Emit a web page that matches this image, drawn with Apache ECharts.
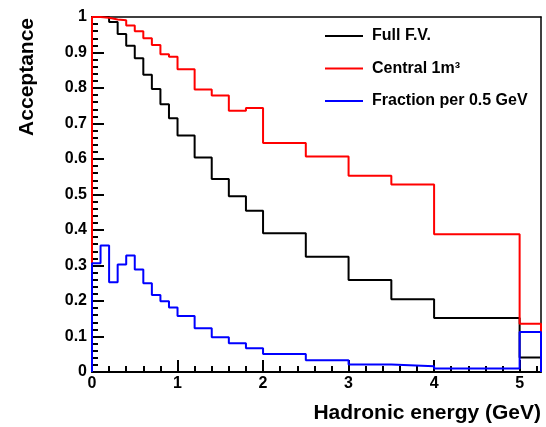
<!DOCTYPE html>
<html>
<head>
<meta charset="utf-8">
<script src="https://cdn.jsdelivr.net/npm/echarts@6/dist/echarts.min.js"></script>
<style>
  html, body { margin: 0; padding: 0; background: #fff; }
  #chart { width: 546px; height: 427px; }
</style>
</head>
<body>
<div id="chart"></div>
<script>
// Bin edges of the hadronic-energy histograms (GeV)
const binEdges = [0, 0.1, 0.2, 0.3, 0.4, 0.5, 0.6, 0.7, 0.8, 0.9, 1.0,
                  1.2, 1.4, 1.6, 1.8, 2.0, 2.5, 3.0, 3.5, 4.0, 5.0, 5.25];

// Acceptance per bin, full fiducial volume
const fullFV = [1.0, 1.0, 0.986, 0.952, 0.919, 0.884, 0.837, 0.797, 0.754, 0.715,
                0.666, 0.604, 0.544, 0.495, 0.454, 0.391, 0.325, 0.259, 0.205, 0.152, 0.041];

// Acceptance per bin, central 1 m^3
const central1m3 = [1.0, 0.998, 0.993, 0.991, 0.976, 0.960, 0.940, 0.921, 0.895, 0.888,
                    0.853, 0.796, 0.779, 0.736, 0.744, 0.645, 0.607, 0.553, 0.528, 0.388, 0.136];

// Fraction of events per 0.5 GeV
const fraction = [0.306, 0.356, 0.253, 0.303, 0.328, 0.289, 0.250, 0.217, 0.199, 0.182,
                  0.158, 0.123, 0.098, 0.081, 0.067, 0.051, 0.033, 0.021, 0.016, 0.010, 0.113];

const seriesNames = ['Full F.V.', 'Central 1m\u00B3', 'Fraction per 0.5 GeV'];
const seriesColors = ['#000000', '#ff0000', '#0000ff'];
const xTickValues = [0, 1, 2, 3, 4, 5];

const FONT = '"Liberation Sans", Arial, Helvetica, sans-serif';
const xMax = binEdges[binEdges.length - 1];

// Turn per-bin contents into an outline that starts and ends on the baseline
function histogramOutline(values) {
  const pts = [[binEdges[0], 0]];
  values.forEach((v, i) => pts.push([binEdges[i], v]));
  pts.push([xMax, values[values.length - 1]]);
  pts.push([xMax, 0]);
  return pts;
}

const chart = echarts.init(document.getElementById('chart'), null, { renderer: 'canvas' });

const legendCenters = [36, 68.5, 101];
const tickLine = { color: '#000', width: 2 };
const frameLine = { show: true, onZero: false, lineStyle: { color: '#000', width: 1.5 } };

chart.setOption({
  animation: false,
  backgroundColor: '#ffffff',
  grid: { left: 92, right: 5, top: 17, bottom: 55, show: false },
  xAxis: [
    {
      // main energy axis: labelled ticks every 1 GeV
      type: 'value', min: 0, max: xMax, interval: 1, position: 'bottom',
      axisLine: { show: true, onZero: false, lineStyle: { color: '#000', width: 2 } },
      axisTick: { show: true, inside: true, length: 12, lineStyle: tickLine },
      splitLine: { show: false },
      axisLabel: {
        show: true,
        color: '#000', fontSize: 16, fontWeight: 'bold', fontFamily: FONT, margin: 4,
        formatter: v => (xTickValues.includes(v) ? String(v) : '')
      }
    },
    {
      // short ticks every 0.2 GeV along the same edge
      type: 'value', min: 0, max: xMax, interval: 0.2, position: 'bottom',
      axisLine: { show: false, onZero: false },
      axisTick: { show: true, inside: true, length: 6, lineStyle: tickLine },
      axisLabel: { show: false },
      splitLine: { show: false }
    },
    {
      // top edge of the frame
      type: 'value', min: 0, max: xMax, position: 'top',
      axisLine: frameLine, axisTick: { show: false }, axisLabel: { show: false },
      splitLine: { show: false }
    }
  ],
  yAxis: [
    {
      type: 'value', min: 0, max: 1, interval: 0.1, position: 'left',
      axisLine: { show: true, onZero: false, lineStyle: { color: '#000', width: 2 } },
      axisTick: { show: true, inside: true, length: 12, lineStyle: tickLine },
      minorTick: { show: true, splitNumber: 5, length: 6, lineStyle: tickLine },
      splitLine: { show: false },
      minorSplitLine: { show: false },
      axisLabel: { show: true, color: '#000', fontSize: 16, fontWeight: 'bold', fontFamily: FONT, margin: 5 }
    },
    {
      // right edge of the frame
      type: 'value', min: 0, max: 1, position: 'right',
      axisLine: frameLine, axisTick: { show: false }, axisLabel: { show: false },
      splitLine: { show: false }
    }
  ],
  legend: seriesNames.map((name, i) => ({
    data: [name],
    left: 325,
    top: legendCenters[i] - 8,
    padding: 0,
    icon: 'rect',
    itemWidth: 38,
    itemHeight: 2,
    selectedMode: false,
    textStyle: {
      color: '#000', fontSize: 16, fontWeight: 'bold', fontFamily: FONT,
      padding: [0, 0, 0, 4]
    }
  })),
  series: [fullFV, central1m3, fraction].map((vals, i) => ({
    name: seriesNames[i],
    type: 'line',
    step: 'end',
    xAxisIndex: 0,
    yAxisIndex: 0,
    symbol: 'none',
    color: seriesColors[i],
    lineStyle: { color: seriesColors[i], width: 2 },
    data: histogramOutline(vals)
  })),
  graphic: [
    {
      type: 'text', x: 541, y: 413.5,
      style: {
        text: 'Hadronic energy (GeV)', fill: '#000',
        font: 'bold 21px ' + FONT, textAlign: 'right', verticalAlign: 'middle', textVerticalAlign: 'middle'
      }
    },
    {
      type: 'text', x: 27, y: 18, rotation: Math.PI / 2,
      style: {
        text: 'Acceptance', fill: '#000',
        font: 'bold 21px ' + FONT, textAlign: 'right', verticalAlign: 'middle', textVerticalAlign: 'middle'
      }
    }
  ]
});
</script>
</body>
</html>
